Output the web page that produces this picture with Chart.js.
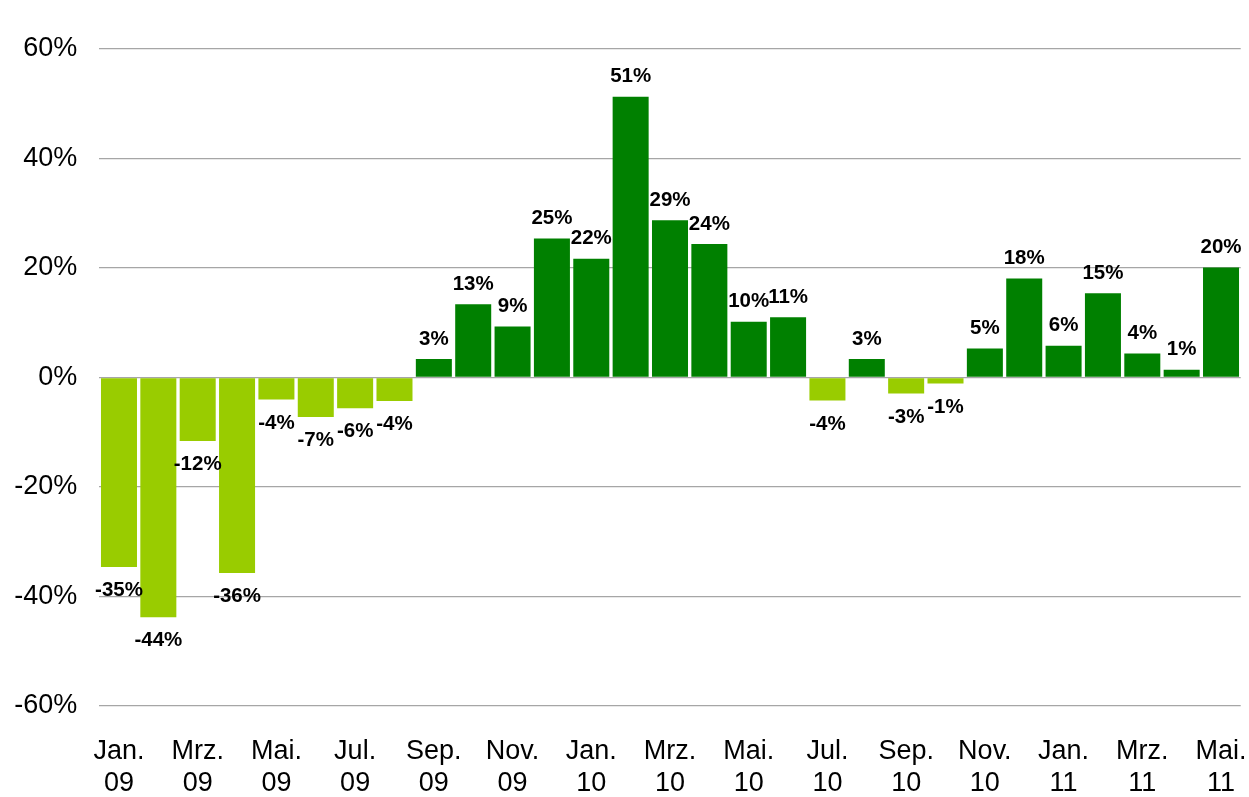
<!DOCTYPE html>
<html>
<head>
<meta charset="utf-8">
<script src="https://cdn.jsdelivr.net/npm/chart.js@4/dist/chart.umd.min.js"></script>
<style>
html,body{margin:0;padding:0;background:#fff;}
#wrap{width:1249px;height:797px;position:relative;}
</style>
</head>
<body>
<div id="wrap"><canvas id="c" width="1249" height="797"></canvas></div>
<script>
const months = ["Jan. 09","Feb. 09","Mrz. 09","Apr. 09","Mai. 09","Jun. 09","Jul. 09","Aug. 09","Sep. 09","Okt. 09","Nov. 09","Dez. 09",
  "Jan. 10","Feb. 10","Mrz. 10","Apr. 10","Mai. 10","Jun. 10","Jul. 10","Aug. 10","Sep. 10","Okt. 10","Nov. 10","Dez. 10",
  "Jan. 11","Feb. 11","Mrz. 11","Apr. 11","Mai. 11"];
const values = [-34.6,-43.8,-11.6,-35.7,-4.0,-7.2,-5.6,-4.3,3.4,13.4,9.3,25.4,
  21.7,51.3,28.7,24.4,10.2,11.0,-4.2,3.4,-2.9,-1.1,5.3,18.1,
  5.8,15.4,4.4,1.4,20.1];
const yTicks = [-60,-40,-20,0,20,40,60];
const posColor = "#008000";
const negColor = "#99CC00";

const labelPlugin = {
  id: 'barLabels',
  afterDatasetsDraw(chart) {
    const ctx = chart.ctx;
    const meta = chart.getDatasetMeta(0);
    ctx.save();
    ctx.font = "bold 20.5px 'Liberation Sans', Arial, sans-serif";
    ctx.fillStyle = "#000";
    ctx.textAlign = "center";
    ctx.textBaseline = "middle";
    meta.data.forEach((bar, i) => {
      const v = values[i];
      const txt = Math.round(v) + "%";
      const y = v >= 0 ? bar.y - 20 : bar.y + 23.5;
      ctx.fillText(txt, bar.x, y);
    });
    ctx.restore();
  }
};

new Chart(document.getElementById('c'), {
  type: 'bar',
  data: {
    labels: months.map(m => m.split(" ")),
    datasets: [{
      data: values,
      backgroundColor: values.map(v => v >= 0 ? posColor : negColor),
      barPercentage: 0.915,
      categoryPercentage: 1.0,
      borderWidth: 0
    }]
  },
  options: {
    responsive: false,
    animation: false,
    events: [],
    layout: { padding: { top: 49, right: 8.3, left: 0, bottom: 0 } },
    plugins: { legend: { display: false }, tooltip: { enabled: false } },
    scales: {
      x: {
        offset: true,
        grid: { display: false, drawTicks: false },
        border: { display: false },
        afterFit(s) { s.height = 91; s.paddingLeft = 0; s.paddingRight = 0; },
        ticks: {
          autoSkip: false,
          maxRotation: 0,
          minRotation: 0,
          padding: 29,
          color: "#000",
          font: { family: "'Liberation Sans', Arial, sans-serif", size: 27, lineHeight: 1.2 },
          callback(val, idx) { return idx % 2 === 0 ? this.getLabelForValue(val) : ""; }
        }
      },
      y: {
        min: yTicks[0],
        max: yTicks[yTicks.length - 1],
        afterBuildTicks(s) { s.ticks = yTicks.map(v => ({ value: v })); },
        afterFit(s) { s.width = 99.3; s.paddingTop = 0; s.paddingBottom = 0; },
        grid: { color: "#a6a6a6", lineWidth: 1.3, drawTicks: false },
        border: { display: false },
        ticks: {
          padding: 22,
          color: "#000",
          font: { family: "'Liberation Sans', Arial, sans-serif", size: 27 },
          callback(v) { return v + "%"; }
        }
      }
    }
  },
  plugins: [labelPlugin]
});
</script>
</body>
</html>
